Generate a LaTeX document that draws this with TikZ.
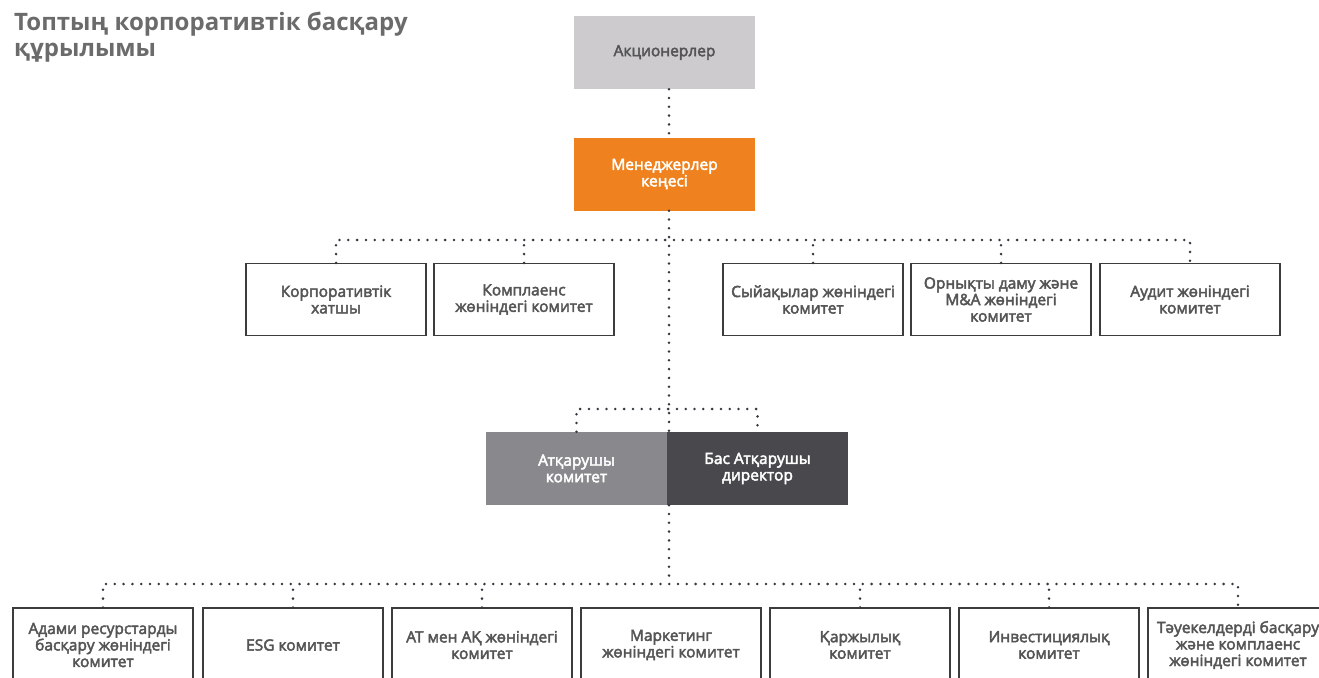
\documentclass[tikz,border=0pt]{standalone}
\usepackage{fontspec}
\setmainfont{Open Sans}
\newfontfamily\semibold{Open Sans}[FakeBold=3]
\usepackage{xcolor}
\usepackage{tikz}
\usetikzlibrary{positioning,calc}

\definecolor{titlegray}{HTML}{6B6B6B}
\definecolor{labelgray}{HTML}{555555}
\definecolor{boxline}{HTML}{3C3C3C}
\definecolor{dotgray}{HTML}{333740}
\definecolor{holdgray}{HTML}{CDCBCE}
\definecolor{boardorange}{HTML}{EF821E}
\definecolor{execgray}{HTML}{89888C}
\definecolor{ceogray}{HTML}{48484D}

\begin{document}
\begin{tikzpicture}[
    x=1pt, y=-1pt,
    title/.style={anchor=north west, align=left, inner sep=0pt, text=titlegray, font=\fontsize{24}{26}\selectfont\bfseries},
    box/.style={draw=boxline, line width=1.2pt, minimum width=180pt, minimum height=72pt, inner sep=1pt, align=center, text=labelgray, font=\fontsize{15.5}{16.5}\selectfont\semibold},
    solid box/.style={minimum width=181pt, minimum height=73pt, inner sep=1pt, align=center, font=\fontsize{15.5}{16.5}\selectfont\semibold},
    link/.style={draw=dotgray, line width=2.8pt, line cap=round, dash pattern=on 0pt off 8.8pt}
  ]
    \useasboundingbox (0,0) rectangle (1319,677);
    \clip (0,0) rectangle (1319,677);

    \node[title] (head) at (14,12) {Топтың корпоративтік басқару\\құрылымы};

    % top of the chart
    \node[solid box, fill=holdgray, text=labelgray] (holders) at (664.5,52.5) {Акционерлер};
    \node[solid box, fill=boardorange, text=white] (board) at (664.5,174) {Менеджерлер\\кеңесі};

    % board committees
    \node[box] (secr) at (336,299.5) {Корпоративтік\\хатшы};
    \node[box] (compl) at (524,299.5) {Комплаенс\\жөніндегі комитет};
    \node[box] (remun) at (813,299.5) {Сыйақылар жөніндегі\\комитет};
    \node[box] (sust) at (1001,299.5) {Орнықты даму және\\M\&A жөніндегі\\комитет};
    \node[box] (audit) at (1190,299.5) {Аудит жөніндегі\\комитет};

    % executive body
    \node[solid box, fill=execgray, text=white] (exec) at (576.5,468.5) {Атқарушы\\комитет};
    \node[solid box, fill=ceogray, text=white] (ceo) at (757.5,468.5) {Бас Атқарушы\\директор};

    % management committees
    \node[box, minimum height=74pt] (hr) at (103,645) {Адами ресурстарды\\басқару жөніндегі\\комитет};
    \node[box, minimum height=74pt] (esg) at (293,645) {ESG комитет};
    \node[box, minimum height=74pt] (itis) at (482,645) {АТ мен АҚ жөніндегі\\комитет};
    \node[box, minimum height=74pt] (mkt) at (671,645) {Маркетинг\\жөніндегі комитет};
    \node[box, minimum height=74pt] (fin) at (860,645) {Қаржылық\\комитет};
    \node[box, minimum height=74pt] (inv) at (1049,645) {Инвестициялық\\комитет};
    \node[box, minimum height=74pt] (risk) at (1238,645) {Тәуекелдерді басқару\\және комплаенс\\жөніндегі комитет};

    \coordinate (top bus) at (669,240);
    \coordinate (mid bus) at (669,409);
    \coordinate (low bus) at (669,584);

    \draw[link] ([xshift=4.5pt]holders.south) -- ([xshift=4.5pt]board.north);
    \draw[link] ([xshift=4.5pt]board.south) -- (exec.north -| top bus);
    \draw[link] (exec.south -| low bus) -- (low bus);

    \draw[link] (secr.north) |- (top bus) -| (audit.north);
    \draw[link] (compl.north) -- (compl.north |- top bus);
    \draw[link] (remun.north) -- (remun.north |- top bus);
    \draw[link] (sust.north) -- (sust.north |- top bus);

    \draw[link] (exec.north) |- (mid bus) -| (ceo.north);

    \draw[link] (hr.north) |- (low bus) -| (risk.north);
    \draw[link] (esg.north) -- (esg.north |- low bus);
    \draw[link] (itis.north) -- (itis.north |- low bus);
    \draw[link] (fin.north) -- (fin.north |- low bus);
    \draw[link] (inv.north) -- (inv.north |- low bus);
  \end{tikzpicture}
\end{document}
